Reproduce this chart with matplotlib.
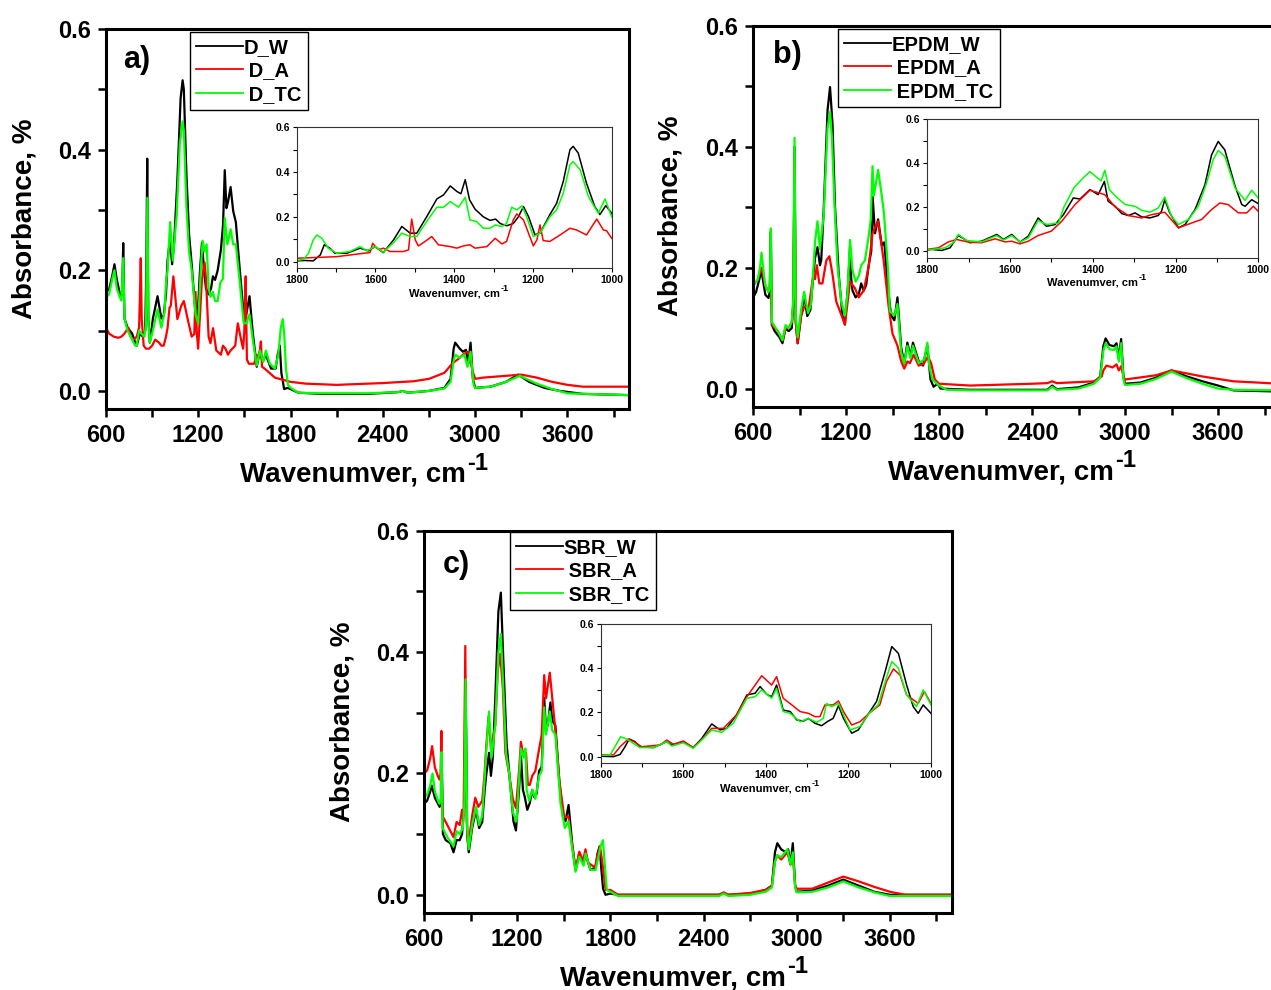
import numpy as np
import matplotlib
matplotlib.use('Agg')
import matplotlib.pyplot as plt
from matplotlib.lines import Line2D

plt.rcParams['font.family'] = ['Liberation Sans', 'DejaVu Sans']
plt.rcParams['font.weight'] = 'bold'

# ---------------- data (wavenumber, absorbance) ----------------
# Panel a) D
a_W_x = [600, 620, 640, 655, 670, 695, 705, 712, 720, 740, 770, 790, 800, 820, 840, 855, 862, 868, 875, 885, 905, 935, 960, 975, 990,
         1000, 1015, 1030, 1043, 1064, 1085, 1098, 1106, 1123, 1140, 1157, 1182, 1195, 1211, 1224, 1237, 1250, 1267, 1283, 1295, 1309,
         1326, 1347, 1361, 1372, 1383, 1393, 1410, 1427, 1444, 1470, 1495, 1512, 1533, 1554, 1580, 1601, 1618, 1639, 1673, 1703, 1716,
         1730, 1740, 1758, 1780, 1800, 1850, 2000, 2300, 2500, 2530, 2560, 2700, 2800, 2840, 2860, 2870, 2900, 2920, 2940, 2955, 2970,
         2985, 3000, 3100, 3200, 3280, 3350, 3450, 3550, 3700, 4000]
a_W_y = [0.165, 0.168, 0.19, 0.21, 0.185, 0.155, 0.16, 0.245, 0.12, 0.105, 0.095, 0.08, 0.075, 0.095, 0.09, 0.10, 0.20, 0.385, 0.12, 0.08, 0.12, 0.157, 0.12, 0.125, 0.16,
         0.216, 0.25, 0.21, 0.246, 0.35, 0.485, 0.515, 0.50, 0.358, 0.26, 0.21, 0.127, 0.12, 0.20, 0.246, 0.20, 0.17, 0.16, 0.17, 0.19, 0.184,
         0.20, 0.234, 0.276, 0.366, 0.303, 0.313, 0.338, 0.298, 0.28, 0.20, 0.127, 0.127, 0.157, 0.097, 0.04, 0.067, 0.048, 0.06, 0.037, 0.037, 0.06,
         0.075, 0.03, 0.003, 0.005, 0.003, -0.003, -0.005, -0.005, -0.002, 0.0, -0.003, 0.0, 0.005, 0.02, 0.07, 0.08, 0.07, 0.065, 0.068, 0.045, 0.08,
         0.02, 0.005, 0.007, 0.015, 0.027, 0.015, 0.005, 0.0, -0.005, -0.007]

a_A_x = [600, 620, 650, 680, 700, 720, 745, 760, 780, 800, 815, 820, 826, 832, 845, 860, 880, 900, 920, 945, 960, 975, 990,
         1000, 1013, 1021, 1038, 1064, 1089, 1106, 1131, 1157, 1174, 1182, 1190, 1199, 1224, 1241, 1250, 1267, 1279, 1296, 1317, 1347,
         1360, 1377, 1393, 1410, 1440, 1457, 1474, 1491, 1499, 1508, 1516, 1529, 1563, 1580, 1588, 1597, 1607, 1614, 1631, 1698, 1800,
         1900, 2100, 2400, 2600, 2700, 2800, 2850, 2900, 2920, 2950, 2965, 2980, 3000, 3050, 3200, 3300, 3400, 3500, 3600, 3700, 4000]
a_A_y = [0.105, 0.095, 0.09, 0.088, 0.09, 0.095, 0.105, 0.09, 0.085, 0.09, 0.105, 0.15, 0.22, 0.12, 0.075, 0.07, 0.07, 0.075, 0.085, 0.08, 0.075, 0.075, 0.09,
         0.104, 0.138, 0.141, 0.19, 0.119, 0.141, 0.149, 0.119, 0.09, 0.094, 0.164, 0.097, 0.07, 0.186, 0.213, 0.186, 0.09, 0.079, 0.104, 0.067, 0.06,
         0.075, 0.07, 0.06, 0.067, 0.075, 0.112, 0.09, 0.07, 0.097, 0.19, 0.052, 0.045, 0.045, 0.06, 0.055, 0.06, 0.082, 0.04, 0.037, 0.022, 0.015,
         0.012, 0.01, 0.013, 0.016, 0.02, 0.03, 0.045, 0.055, 0.06, 0.065, 0.06, 0.035, 0.02, 0.022, 0.025, 0.027, 0.022, 0.015, 0.01, 0.007, 0.007]

a_TC_x = [600, 620, 640, 655, 670, 690, 700, 712, 720, 740, 770, 790, 800, 815, 830, 850, 860, 869, 877, 885, 905, 935, 960, 980, 990,
          1000, 1017, 1034, 1059, 1080, 1098, 1106, 1123, 1140, 1157, 1182, 1199, 1216, 1228, 1241, 1254, 1267, 1279, 1295, 1309, 1326,
          1343, 1360, 1372, 1389, 1410, 1427, 1444, 1470, 1495, 1512, 1533, 1554, 1580, 1601, 1622, 1639, 1665, 1698, 1720, 1736, 1749,
          1758, 1770, 1783, 1800, 1850, 2000, 2300, 2500, 2530, 2560, 2700, 2800, 2840, 2860, 2870, 2900, 2930, 2950, 2970, 2990, 3000,
          3100, 3200, 3290, 3400, 3500, 3600, 4000]
a_TC_y = [0.155, 0.16, 0.185, 0.20, 0.17, 0.155, 0.15, 0.22, 0.12, 0.10, 0.085, 0.075, 0.075, 0.10, 0.095, 0.09, 0.11, 0.32, 0.11, 0.08, 0.10, 0.135, 0.105, 0.13, 0.18,
          0.20, 0.28, 0.216, 0.29, 0.41, 0.447, 0.432, 0.305, 0.231, 0.20, 0.127, 0.112, 0.20, 0.249, 0.231, 0.243, 0.171, 0.156, 0.164, 0.149, 0.149,
          0.179, 0.186, 0.287, 0.243, 0.268, 0.243, 0.243, 0.179, 0.112, 0.112, 0.127, 0.085, 0.042, 0.067, 0.048, 0.067, 0.045, 0.037, 0.06, 0.104, 0.119,
          0.097, 0.037, 0.01, 0.005, -0.003, -0.004, -0.004, -0.002, 0.0, -0.003, 0.0, 0.004, 0.015, 0.05, 0.06, 0.055, 0.06, 0.04, 0.065, 0.01, 0.005,
          0.007, 0.015, 0.025, 0.012, 0.003, -0.004, -0.007]

# Panel b) EPDM
b_W_x = [600, 620, 640, 655, 670, 680, 700, 708, 715, 722, 740, 770, 790, 810, 830, 850, 860, 868, 876, 888, 910, 930, 950, 970, 990,
         1000, 1016, 1032, 1040, 1056, 1081, 1097, 1113, 1129, 1153, 1177, 1193, 1214, 1226, 1234, 1242, 1262, 1282, 1298, 1314, 1330,
         1346, 1363, 1372, 1387, 1407, 1431, 1447, 1471, 1491, 1512, 1532, 1556, 1576, 1596, 1616, 1632, 1669, 1697, 1709, 1725, 1745,
         1765, 1790, 1810, 2000, 2500, 2530, 2560, 2700, 2800, 2840, 2860, 2875, 2900, 2930, 2945, 2960, 2975, 2990, 3000, 3100, 3200,
         3300, 3400, 3500, 3600, 3700, 4000]
b_W_y = [0.15, 0.16, 0.18, 0.195, 0.17, 0.155, 0.15, 0.16, 0.26, 0.105, 0.095, 0.085, 0.075, 0.10, 0.095, 0.10, 0.14, 0.40, 0.11, 0.075, 0.12, 0.155, 0.12, 0.13, 0.19,
         0.216, 0.234, 0.204, 0.212, 0.295, 0.461, 0.499, 0.438, 0.302, 0.189, 0.121, 0.106, 0.174, 0.234, 0.181, 0.162, 0.151, 0.156, 0.174, 0.162, 0.171,
         0.204, 0.227, 0.317, 0.257, 0.28, 0.237, 0.242, 0.166, 0.121, 0.113, 0.151, 0.068, 0.041, 0.076, 0.053, 0.076, 0.045, 0.038, 0.053, 0.071, 0.015,
         0.003, 0.008, 0.0, -0.002, -0.002, 0.005, -0.001, 0.002, 0.01, 0.02, 0.07, 0.083, 0.072, 0.07, 0.075, 0.05, 0.082, 0.02, 0.008, 0.01, 0.018,
         0.03, 0.02, 0.012, 0.005, -0.003, -0.005]

b_A_x = [600, 630, 655, 680, 700, 708, 715, 722, 760, 790, 810, 830, 850, 860, 868, 876, 888, 910, 930, 960, 990,
         1000, 1012, 1028, 1048, 1073, 1093, 1113, 1137, 1161, 1193, 1226, 1258, 1282, 1314, 1346, 1371, 1407, 1443, 1475, 1500,
         1532, 1556, 1576, 1596, 1612, 1636, 1669, 1701, 1729, 1749, 1773, 1800, 2000, 2400, 2500, 2530, 2560, 2800, 2850, 2860,
         2880, 2920, 2945, 2960, 2975, 2990, 3000, 3200, 3300, 3500, 3700, 4000]
b_A_y = [0.17, 0.18, 0.20, 0.17, 0.16, 0.165, 0.20, 0.105, 0.095, 0.08, 0.10, 0.10, 0.11, 0.14, 0.38, 0.11, 0.075, 0.12, 0.135, 0.135, 0.19,
         0.181, 0.204, 0.174, 0.174, 0.212, 0.219, 0.189, 0.144, 0.128, 0.106, 0.177, 0.166, 0.151, 0.162, 0.201, 0.257, 0.277, 0.212, 0.136, 0.091,
         0.071, 0.045, 0.033, 0.045, 0.042, 0.056, 0.038, 0.041, 0.053, 0.042, 0.015, 0.008, 0.005, 0.008, 0.009, 0.012, 0.009, 0.012, 0.02, 0.03,
         0.038, 0.035, 0.04, 0.03, 0.037, 0.02, 0.015, 0.022, 0.03, 0.02, 0.012, 0.008]

b_TC_x = [600, 630, 645, 655, 670, 680, 700, 708, 715, 722, 760, 790, 810, 830, 850, 860, 868, 876, 888, 910, 930, 955, 975, 995,
          1000, 1016, 1032, 1056, 1081, 1097, 1109, 1125, 1145, 1169, 1193, 1210, 1226, 1242, 1262, 1282, 1298, 1322, 1345, 1360,
          1371, 1380, 1390, 1407, 1425, 1445, 1470, 1483, 1512, 1532, 1556, 1576, 1596, 1616, 1632, 1669, 1705, 1725, 1737, 1757,
          1800, 1850, 2000, 2500, 2530, 2560, 2700, 2800, 2840, 2860, 2875, 2900, 2930, 2945, 2960, 2975, 2990, 3000, 3100, 3200,
          3300, 3400, 3500, 3600, 3700, 4000]
b_TC_y = [0.17, 0.18, 0.20, 0.225, 0.19, 0.17, 0.16, 0.17, 0.265, 0.11, 0.095, 0.08, 0.105, 0.10, 0.11, 0.15, 0.415, 0.12, 0.085, 0.13, 0.16, 0.125, 0.14, 0.22,
          0.242, 0.277, 0.231, 0.287, 0.431, 0.458, 0.416, 0.31, 0.204, 0.144, 0.121, 0.159, 0.246, 0.196, 0.177, 0.186, 0.204, 0.212, 0.25, 0.28,
          0.368, 0.32, 0.335, 0.362, 0.33, 0.29, 0.20, 0.128, 0.121, 0.14, 0.06, 0.041, 0.071, 0.05, 0.071, 0.042, 0.048, 0.076, 0.038, 0.015,
          0.005, -0.002, -0.003, -0.003, 0.003, -0.002, 0.0, 0.008, 0.018, 0.062, 0.075, 0.065, 0.064, 0.07, 0.045, 0.075, 0.015, 0.006, 0.008, 0.016,
          0.028, 0.017, 0.008, 0.0, -0.002, -0.003]

# Panel c) SBR
c_W_x = [600, 620, 640, 650, 670, 690, 700, 710, 716, 722, 740, 770, 790, 810, 830, 845, 860, 868, 878, 888, 910, 935, 955, 975, 990,
         1000, 1019, 1031, 1043, 1059, 1079, 1095, 1111, 1132, 1148, 1176, 1192, 1212, 1224, 1237, 1249, 1265, 1281, 1297, 1309, 1325,
         1341, 1358, 1374, 1386, 1398, 1414, 1426, 1446, 1471, 1495, 1511, 1531, 1555, 1576, 1600, 1628, 1640, 1672, 1705, 1717, 1731,
         1741, 1753, 1769, 1800, 1850, 2500, 2530, 2560, 2700, 2800, 2840, 2860, 2875, 2900, 2930, 2945, 2960, 2975, 2990, 3000, 3100,
         3200, 3300, 3400, 3500, 3600, 4000]
c_W_y = [0.15, 0.155, 0.17, 0.18, 0.16, 0.15, 0.145, 0.15, 0.20, 0.10, 0.09, 0.085, 0.07, 0.09, 0.09, 0.10, 0.15, 0.35, 0.10, 0.07, 0.11, 0.14, 0.11, 0.12, 0.17,
         0.196, 0.234, 0.196, 0.226, 0.324, 0.467, 0.498, 0.385, 0.249, 0.204, 0.121, 0.106, 0.173, 0.231, 0.173, 0.161, 0.14, 0.151, 0.173, 0.161, 0.166,
         0.204, 0.211, 0.324, 0.271, 0.282, 0.317, 0.287, 0.279, 0.189, 0.128, 0.121, 0.148, 0.083, 0.041, 0.068, 0.053, 0.068, 0.041, 0.045, 0.068, 0.08,
         0.045, 0.01, 0.0, 0.002, 0.0, 0.0, 0.003, 0.0, 0.002, 0.008, 0.015, 0.07, 0.085, 0.075, 0.07, 0.075, 0.05, 0.085, 0.015, 0.005, 0.007,
         0.015, 0.025, 0.015, 0.005, 0.0, 0.0]

c_A_x = [600, 620, 640, 652, 670, 690, 700, 707, 712, 718, 740, 770, 790, 810, 830, 845, 855, 866, 875, 885, 910, 930, 950, 975, 990,
         1000, 1016, 1031, 1059, 1075, 1091, 1108, 1124, 1148, 1172, 1192, 1212, 1224, 1237, 1257, 1269, 1281, 1297, 1317, 1337, 1358,
         1374, 1386, 1410, 1446, 1471, 1503, 1531, 1551, 1576, 1600, 1624, 1640, 1656, 1701, 1717, 1733, 1753, 1769, 1800, 1850,
         2500, 2530, 2560, 2700, 2800, 2840, 2860, 2875, 2900, 2940, 2960, 2975, 2990, 3000, 3100, 3200, 3300, 3400, 3500, 3600, 3700, 4000]
c_A_y = [0.20, 0.205, 0.225, 0.245, 0.21, 0.195, 0.19, 0.20, 0.27, 0.13, 0.12, 0.105, 0.095, 0.12, 0.115, 0.14, 0.13, 0.41, 0.12, 0.08, 0.13, 0.16, 0.145, 0.155, 0.20,
         0.241, 0.294, 0.241, 0.279, 0.369, 0.397, 0.339, 0.234, 0.199, 0.158, 0.143, 0.204, 0.252, 0.234, 0.234, 0.181, 0.181, 0.196, 0.204, 0.234, 0.264,
         0.362, 0.324, 0.366, 0.271, 0.189, 0.128, 0.128, 0.086, 0.041, 0.071, 0.056, 0.075, 0.053, 0.045, 0.065, 0.08, 0.045, 0.008, 0.008, 0.0,
         0.0, 0.004, 0.0, 0.003, 0.008, 0.015, 0.055, 0.065, 0.058, 0.07, 0.05, 0.065, 0.015, 0.01, 0.01, 0.02, 0.03, 0.022, 0.013, 0.005, 0.0, 0.0]

c_TC_x = [600, 620, 640, 655, 670, 690, 700, 707, 712, 720, 750, 790, 810, 830, 850, 860, 868, 878, 888, 910, 935, 955, 975, 990,
          1000, 1019, 1035, 1059, 1079, 1095, 1111, 1128, 1148, 1172, 1196, 1212, 1224, 1241, 1253, 1261, 1277, 1297, 1317, 1341, 1358,
          1374, 1386, 1410, 1426, 1446, 1479, 1507, 1531, 1551, 1576, 1600, 1628, 1640, 1672, 1705, 1721, 1737, 1752, 1761, 1777, 1800,
          1850, 2500, 2530, 2560, 2700, 2800, 2840, 2860, 2875, 2900, 2940, 2960, 2975, 2990, 3000, 3100, 3200, 3300, 3400, 3500, 3600, 4000]
c_TC_y = [0.16, 0.165, 0.18, 0.20, 0.17, 0.155, 0.15, 0.16, 0.235, 0.11, 0.095, 0.08, 0.105, 0.10, 0.11, 0.15, 0.355, 0.11, 0.075, 0.115, 0.145, 0.115, 0.13, 0.19,
          0.234, 0.302, 0.226, 0.279, 0.40, 0.43, 0.339, 0.234, 0.201, 0.136, 0.121, 0.189, 0.241, 0.226, 0.241, 0.173, 0.155, 0.173, 0.158, 0.196, 0.204,
          0.309, 0.264, 0.302, 0.271, 0.264, 0.151, 0.11, 0.121, 0.083, 0.038, 0.063, 0.048, 0.068, 0.041, 0.041, 0.06, 0.08, 0.09, 0.06, 0.008, 0.005,
          -0.002, -0.002, 0.002, -0.002, 0.0, 0.005, 0.012, 0.055, 0.065, 0.062, 0.075, 0.05, 0.07, 0.012, 0.004, 0.005, 0.012, 0.022, 0.012, 0.004, -0.002, -0.002]

series_colors = ['#000000', '#ff0000', '#00ff00']

panels = [
    dict(tag='a)', names=['D_W', 'D_A', 'D_TC'],
         data=[(a_W_x, a_W_y), (a_A_x, a_A_y), (a_TC_x, a_TC_y)],
         main=(106, 629, 29, 409), inset=(296.7, 611.7, 127.3, 268.3),
         legend=(190, 32), tagpos=(137, 60), ylab=(25, 219), xlab=(240, 482)),
    dict(tag='b)', names=['EPDM_W', 'EPDM_A', 'EPDM_TC'],
         data=[(b_W_x, b_W_y), (b_A_x, b_A_y), (b_TC_x, b_TC_y)],
         main=(753, 1280, 26, 406.7), inset=(927.3, 1258.3, 119.3, 257.7),
         legend=(838, 29), tagpos=(787, 55), ylab=(670, 216), xlab=(888, 479)),
    dict(tag='c)', names=['SBR_W', 'SBR_A', 'SBR_TC'],
         data=[(c_W_x, c_W_y), (c_A_x, c_A_y), (c_TC_x, c_TC_y)],
         main=(424, 952, 530.7, 913), inset=(600.7, 931, 624, 763.3),
         legend=(510, 532), tagpos=(456, 565), ylab=(343, 722), xlab=(560, 985)),
]

FW, FH = 1271, 990
fig = plt.figure(figsize=(FW / 100, FH / 100), dpi=100)
renderer = fig.canvas.get_renderer()


def rect(l, r, t, b):
    return [l / FW, 1 - b / FH, (r - l) / FW, (b - t) / FH]


for p in panels:
    ax = fig.add_axes(rect(*p['main']))
    for (xs, ys), col in zip(p['data'], series_colors):
        ax.plot(xs, ys, color=col, lw=1.6)
    ax.set_xlim(600, 4000)
    ax.set_ylim(-0.03, 0.6)
    ax.set_xticks([600, 1200, 1800, 2400, 3000, 3600])
    ax.set_xticks([900, 1500, 2100, 2700, 3300, 3900], minor=True)
    ax.set_yticks([0.0, 0.2, 0.4, 0.6])
    ax.set_yticklabels(['0.0', '0.2', '0.4', '0.6'])
    ax.set_yticks([0.1, 0.3, 0.5], minor=True)
    ax.tick_params(which='both', direction='out', top=False, right=False,
                   labelsize=17, pad=5)
    ax.tick_params(which='both', length=6, width=1.8)
    for lab in ax.get_xticklabels() + ax.get_yticklabels():
        lab.set_fontweight('bold')
    for s in ax.spines.values():
        s.set_linewidth(2.2)

    leg_handles = [Line2D([], [], color=c, lw=1.3) for c in series_colors]
    leg = ax.legend(leg_handles, [p['names'][0], ' ' + p['names'][1], ' ' + p['names'][2]],
                    loc='upper left',
                    bbox_to_anchor=(p['legend'][0] / FW, 1 - p['legend'][1] / FH),
                    bbox_transform=fig.transFigure, borderaxespad=0,
                    frameon=True, fancybox=False, edgecolor='black', framealpha=1,
                    prop={'size': 14.5, 'weight': 'bold'}, handlelength=2.35,
                    handletextpad=0.0, labelspacing=0.22, borderpad=0.3)
    leg.get_frame().set_linewidth(1.0)

    fig.text(p['tagpos'][0] / FW, 1 - p['tagpos'][1] / FH, p['tag'],
             fontsize=22, fontweight='bold', ha='center', va='center')
    fig.text(p['ylab'][0] / FW, 1 - p['ylab'][1] / FH, 'Absorbance, %',
             fontsize=20, fontweight='bold', rotation=90, ha='center', va='center')
    xt = fig.text(p['xlab'][0] / FW, 1 - p['xlab'][1] / FH, 'Wavenumver, cm',
                  fontsize=20, fontweight='bold', ha='left', va='baseline')
    bb = xt.get_window_extent(renderer)
    fig.text((bb.x1 + 1) / FW, 1 - (p['xlab'][1] - 12) / FH, '-1',
             fontsize=17, fontweight='bold', ha='left', va='baseline')

    ins = fig.add_axes(rect(*p['inset']))
    for (xs, ys), col in zip(p['data'], series_colors):
        ins.plot(xs, ys, color=col, lw=1.1)
    ins.set_xlim(1800, 1000)
    ins.set_ylim(-0.03, 0.6)
    ins.set_xticks([1800, 1600, 1400, 1200, 1000])
    ins.set_xticks([1700, 1500, 1300, 1100], minor=True)
    ins.set_yticks([0.0, 0.2, 0.4, 0.6])
    ins.set_yticklabels(['0.0', '0.2', '0.4', '0.6'])
    ins.set_yticks([0.1, 0.3, 0.5], minor=True)
    ins.tick_params(which='both', direction='out', top=False, right=False,
                    labelsize=7.5, pad=2, length=3, width=0.8)
    for lab in ins.get_xticklabels() + ins.get_yticklabels():
        lab.set_fontweight('bold')
    for s in ins.spines.values():
        s.set_linewidth(0.8)
        s.set_color('#333333')
    ins.set_xlabel('Wavenumver, cm', fontsize=8, fontweight='bold', labelpad=2)
    fig.canvas.draw()
    lbb = ins.xaxis.label.get_window_extent(renderer)
    fig.text((lbb.x1 + 0.5) / FW, (lbb.y0 + lbb.height * 0.55) / FH, '-1',
             fontsize=6.5, fontweight='bold', ha='left', va='bottom')

fig.savefig('out.png', dpi=100)
